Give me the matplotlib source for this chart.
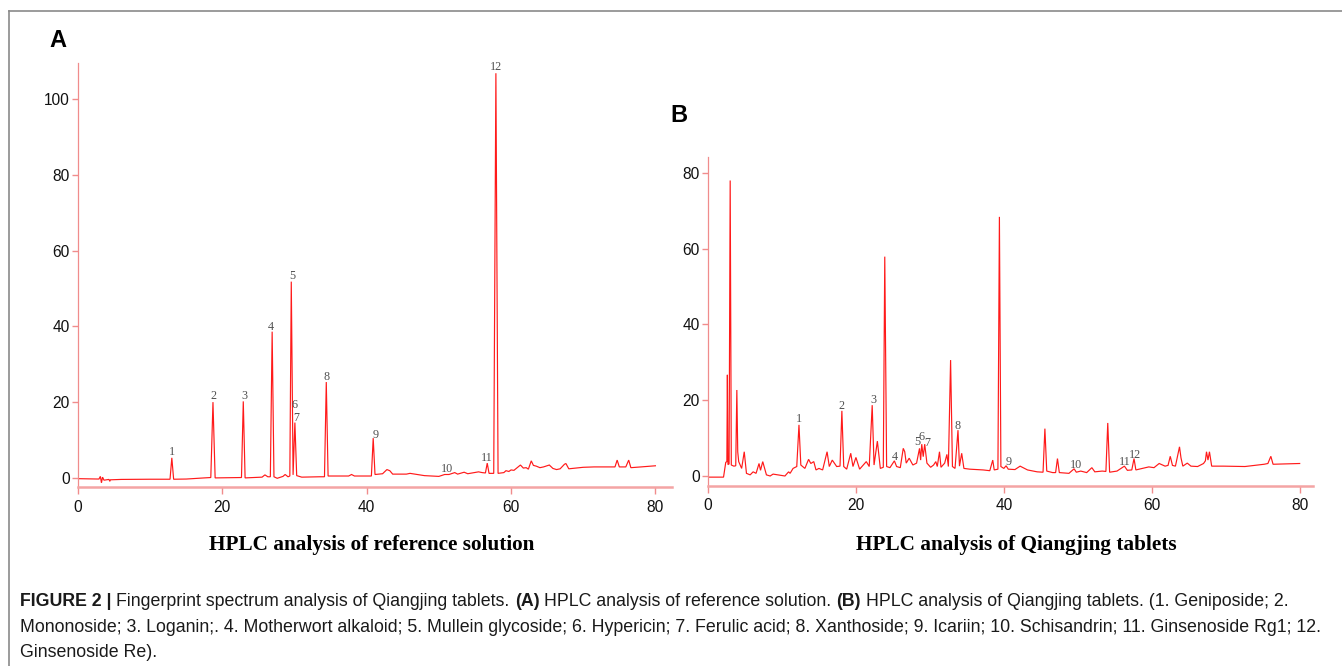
import matplotlib
matplotlib.use('Agg')
import matplotlib.pyplot as plt
from matplotlib.lines import Line2D

# ---- data (retention time in min, detector response) ----
# panel A: reference solution
a_time = [0, 2.9, 3.1, 3.25, 3.4, 3.6, 4.3, 4.4, 4.5, 6.0, 10.0, 12.75, 13.0, 13.25,
          15.0, 17.5, 18.4, 18.7, 19.0, 22.65, 22.9, 23.15, 25.5, 25.9, 26.3, 26.65, 26.9, 27.15, 27.6,
          28.4, 28.7, 29.1, 29.35, 29.55, 29.8, 30.05, 30.3, 31.0, 33.5, 34.15, 34.4, 34.65,
          37.5, 37.9, 38.3, 40.65, 40.9, 41.15, 42.2, 42.8, 43.2, 43.6, 45.5, 46.0, 48.0, 50.0,
          50.8, 51.4, 52.2, 52.6, 53.5, 54.0, 55.5, 56.0, 56.45, 56.7, 56.95, 57.6, 57.9, 58.2,
          59.0, 59.3, 59.7, 60.0, 60.4, 61.3, 61.7, 62.1, 62.4, 62.8, 63.1, 63.5, 64.0, 64.5,
          65.3, 65.8, 66.3, 66.8, 67.4, 67.6, 68.0, 70.0, 71.5, 74.4, 74.7, 75.0, 75.9, 76.3, 76.6, 78.0, 80.0]
a_signal = [-0.2, -0.3, 0.4, -1.3, 0.2, -0.6, -0.4, -0.9, -0.5, -0.4, -0.35, -0.35, 5.3, -0.35,
            -0.3, 0.0, 0.1, 20.0, 0.0, 0.1, 20.2, 0.0, 0.2, 0.8, 0.3, 0.3, 38.6, 0.3, -0.1,
            0.4, 0.9, 0.3, 0.5, 51.8, 0.8, 14.6, 0.6, 0.2, 0.3, 0.3, 25.3, 0.5,
            0.5, 0.9, 0.5, 0.5, 10.5, 0.9, 1.1, 2.2, 1.9, 1.0, 1.0, 1.2, 0.6, 0.4,
            0.9, 0.9, 1.4, 1.0, 1.5, 1.1, 1.6, 1.4, 1.3, 3.9, 1.2, 1.2, 106.8, 1.2,
            1.4, 1.9, 1.7, 2.1, 2.0, 3.4, 2.6, 2.7, 2.3, 4.5, 3.3, 3.1, 2.7, 2.9,
            3.4, 2.5, 2.2, 2.4, 3.6, 3.8, 2.4, 2.8, 2.9, 2.9, 4.7, 2.9, 2.9, 4.7, 2.7, 2.9, 3.2]
a_label_x = [13.0, 18.8, 23.0, 26.75, 29.65, 30.0, 30.3, 34.4, 41.2, 51.1, 56.7, 57.9]
a_label_y = [6.9, 21.5, 21.5, 39.8, 53.3, 19.3, 15.8, 26.6, 11.3, 2.3, 5.2, 108.4]

# panel B: Qiangjing tablets
b_time = [0, 2.1, 2.4, 2.55, 2.62, 2.7, 2.85, 3.0, 3.15, 3.5, 3.75, 3.9, 4.02, 4.15,
          4.55, 4.9, 5.2, 5.7, 6.1, 6.5, 6.9, 7.1, 7.4, 7.9, 8.4, 8.8, 10.4, 10.9,
          11.1, 11.5, 12.0, 12.3, 12.55, 13.1, 13.6, 13.9, 14.3, 14.6, 15.0, 15.5, 16.1, 16.4,
          16.8, 17.4, 17.85, 18.1, 18.35, 18.75, 19.3, 19.6, 20.0, 20.5, 21.4, 21.8, 22.2, 22.45,
          22.9, 23.3, 23.7, 23.9, 24.15, 24.6, 25.2, 25.5, 26.0, 26.4, 26.6, 26.8, 27.2, 27.7,
          28.2, 28.6, 28.75, 28.9, 29.1, 29.3, 29.6, 30.1, 30.5, 30.8, 31.0, 31.3, 31.5, 32.0,
          32.3, 32.5, 32.8, 33.05, 33.4, 33.8, 34.0, 34.3, 34.6, 35.4, 37.2, 38.1, 38.5, 38.7,
          39.2, 39.4, 39.6, 40.0, 40.3, 40.6, 41.5, 42.2, 43.2, 44.5, 45.3, 45.55, 45.8, 46.6,
          47.0, 47.25, 47.5, 48.8, 49.5, 49.8, 50.4, 51.2, 51.9, 52.3, 53.3, 53.8, 54.05, 54.3,
          55.3, 56.3, 56.7, 57.3, 57.6, 57.85, 58.5, 59.6, 60.3, 61.0, 61.8, 62.2, 62.5, 62.8,
          63.2, 63.75, 63.95, 64.2, 64.8, 65.3, 66.2, 67.0, 67.25, 67.4, 67.6, 67.8, 68.1, 69.7,
          72.6, 75.2, 75.7, 76.1, 76.4, 80.0]
b_signal = [-0.3, -0.3, 3.6, 3.8, 26.7, 3.0, 3.2, 78.0, 2.9, 2.6, 2.7, 22.7, 6.4, 3.8,
            2.0, 6.4, 0.7, 0.3, 1.1, 0.7, 3.3, 1.5, 3.8, 0.3, 0.0, 0.5, 0.0, 1.1,
            0.7, 2.0, 2.5, 13.5, 2.9, 2.0, 4.4, 3.3, 3.8, 1.6, 2.0, 1.6, 6.4, 2.5,
            4.2, 2.5, 2.6, 17.2, 2.5, 1.8, 6.0, 2.5, 4.9, 1.8, 3.8, 2.5, 18.7, 2.9,
            9.2, 2.0, 2.3, 57.9, 2.5, 2.2, 4.0, 2.5, 2.2, 7.3, 6.4, 3.4, 4.7, 2.9,
            3.4, 7.3, 4.2, 8.4, 5.1, 8.4, 3.4, 2.3, 2.9, 3.8, 2.5, 6.4, 2.3, 3.4,
            5.7, 2.5, 30.6, 2.5, 2.0, 12.1, 2.6, 6.0, 2.0, 1.8, 1.6, 1.4, 4.2, 1.6,
            1.8, 68.4, 2.5, 2.0, 2.7, 1.8, 1.7, 2.6, 1.6, 1.1, 1.0, 12.5, 1.3, 0.9,
            0.9, 4.6, 0.9, 0.7, 1.9, 1.0, 1.3, 0.9, 2.2, 1.1, 1.3, 1.2, 14.0, 1.0,
            1.3, 2.6, 1.5, 1.6, 4.6, 1.6, 1.9, 2.4, 2.2, 3.3, 2.6, 2.8, 5.2, 2.8,
            2.6, 7.7, 4.8, 2.6, 3.4, 2.6, 2.5, 3.3, 4.0, 6.4, 4.2, 6.4, 2.6, 2.6,
            2.5, 3.1, 3.3, 5.2, 3.1, 3.3]
b_label_x = [12.3, 18.1, 22.3, 25.2, 28.3, 28.9, 29.6, 33.8, 40.7, 49.7, 56.4, 57.7]
b_label_y = [15.0, 18.5, 20.1, 5.1, 9.1, 10.4, 8.6, 13.3, 3.8, 2.9, 3.8, 5.5]

peak_names = ['1', '2', '3', '4', '5', '6', '7', '8', '9', '10', '11', '12']
x_ticks = [0, 20, 40, 60, 80]
a_y_ticks = [0, 20, 40, 60, 80, 100]
b_y_ticks = [0, 20, 40, 60, 80]

caption_lines = [
    [("FIGURE 2 |", True), ("Fingerprint spectrum analysis of Qiangjing tablets.", False),
     ("(A)", True), ("HPLC analysis of reference solution.", False),
     ("(B)", True), ("HPLC analysis of Qiangjing tablets. (1. Geniposide; 2.", False)],
    [("Mononoside; 3. Loganin;. 4. Motherwort alkaloid; 5. Mullein glycoside; 6. Hypericin; "
      "7. Ferulic acid; 8. Xanthoside; 9. Icariin; 10. Schisandrin; 11. Ginsenoside Rg1; 12.", False)],
    [("Ginsenoside Re).", False)],
]

W, H = 1342, 666
TRACE = '#ff1a1a'
AXIS = '#f08c8c'

fig = plt.figure(figsize=(W / 100, H / 100), dpi=100)


def px_box(left, top, right, bottom):
    return [left / W, 1 - bottom / H, (right - left) / W, (bottom - top) / H]


def draw_panel(rect, t, s, lx, ly, xlim, ylim, yticks):
    ax = fig.add_axes(rect)
    ax.plot(t, s, color=TRACE, lw=0.85, solid_joinstyle='miter')
    for name, x, y in zip(peak_names, lx, ly):
        ax.text(x, y, name, ha='center', va='center', fontsize=8.7,
                family='Liberation Serif', color='#505050')
    ax.set_xlim(xlim)
    ax.set_ylim(ylim)
    ax.set_xticks(x_ticks)
    ax.set_yticks(yticks)
    for side in ['top', 'right']:
        ax.spines[side].set_visible(False)
    ax.spines['left'].set_color(AXIS)
    ax.spines['left'].set_linewidth(0.9)
    ax.spines['bottom'].set_color('#f4a4a4')
    ax.spines['bottom'].set_linewidth(1.8)
    ax.tick_params(axis='x', direction='out', length=5, width=1, color=AXIS, pad=4)
    ax.tick_params(axis='y', direction='out', length=4, width=1, color=AXIS, pad=2)
    for lab in ax.get_xticklabels() + ax.get_yticklabels():
        lab.set_fontfamily('Liberation Sans')
        lab.set_fontsize(11.2)
        lab.set_color('#111111')
    ax.patch.set_alpha(0)
    return ax


draw_panel(px_box(78, 63, 672, 487), a_time, a_signal, a_label_x, a_label_y,
           (0, 82.3), (-2.4, 109.5), a_y_ticks)
draw_panel(px_box(708, 157, 1313, 486), b_time, b_signal, b_label_x, b_label_y,
           (0, 81.8), (-2.64, 84.2), b_y_ticks)

# panel letters and titles
fig.text(49 / W, 1 - 47 / H, 'A', fontsize=17, fontweight='bold',
         family='Liberation Sans', va='baseline')
fig.text(670 / W, 1 - 122 / H, 'B', fontsize=17, fontweight='bold',
         family='Liberation Sans', va='baseline')
fig.text(372 / W, 1 - 545 / H, 'HPLC analysis of reference solution', ha='center',
         va='center', fontsize=15.3, fontweight='bold', family='Liberation Serif')
fig.text(1016 / W, 1 - 545 / H, 'HPLC analysis of Qiangjing tablets', ha='center',
         va='center', fontsize=15.3, fontweight='bold', family='Liberation Serif')

# frame around the figure
fig.add_artist(Line2D([9 / W, 9 / W], [0, 1 - 10.5 / H], color='#8a8a8a', lw=1.2,
                      transform=fig.transFigure))
fig.add_artist(Line2D([9 / W, 1], [1 - 10.5 / H, 1 - 10.5 / H], color='#8a8a8a', lw=1.2,
                      transform=fig.transFigure))

# caption, pieces laid out one after another
fig.canvas.draw()
renderer = fig.canvas.get_renderer()
cap_size = 12.8
space = 0.278 * cap_size * 100 / 72
for i, parts in enumerate(caption_lines):
    x = 20
    y = 1 - (606 + i * 25.5) / H
    for txt, bold in parts:
        t = fig.text(x / W, y, txt, fontsize=cap_size, family='Liberation Sans',
                     fontweight='bold' if bold else 'normal', va='baseline', color='#1a1a1a')
        x += t.get_window_extent(renderer).width + space

fig.savefig('out.png', dpi=100)
